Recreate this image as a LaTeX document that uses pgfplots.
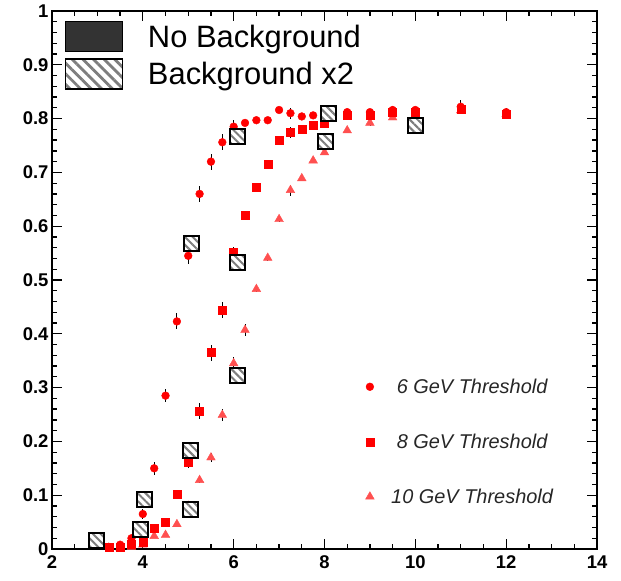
\documentclass[border=0pt]{standalone}
\usepackage{fontspec}
\setmainfont{Liberation Sans}
\usepackage{pgfplots}
\pgfplotsset{compat=1.18}
\usetikzlibrary{patterns.meta}
\definecolor{redA}{HTML}{FF0000}
\definecolor{redT}{HTML}{FF5050}
\definecolor{hatch}{HTML}{7E7E7E}
\definecolor{darkbox}{HTML}{333333}
\pgfplotsset{onemark/.style={legend image code/.code={\draw[##1] plot coordinates {(0bp,0bp)};}}}

\begin{document}
\begin{tikzpicture}
\useasboundingbox (-52bp,-32bp) rectangle (569bp,549bp);
\begin{axis}[
    at={(0,0)}, anchor=south west,
    scale only axis,
    width=545bp, height=538bp,
    xmin=2, xmax=14, ymin=0, ymax=1,
    xtick={2,4,...,14},
    minor x tick num=3,
    ytick={0,0.1,0.2,0.3,0.4,0.5,0.6,0.7,0.8,0.9,1},
    yticklabels={0,0.1,0.2,0.3,0.4,0.5,0.6,0.7,0.8,0.9,1},
    minor y tick num=4,
    tick align=inside,
    major tick length=10bp,
    minor tick length=5bp,
    axis line style={line width=1.8bp},
    every tick/.style={black, line width=1.3bp},
    tick label style={font=\bfseries\fontsize{18.5}{20}\selectfont},
    xticklabel style={yshift=-3bp},
    /pgf/number format/assume math mode=true,
    reverse legend,
    legend style={at={(0.575,0.1994)}, anchor=west, draw=none, fill=none,
        inner sep=0bp, row sep=39bp, nodes={inner sep=0bp},
        font=\itshape\fontsize{20}{22}\selectfont, text=black!85,
        /tikz/every odd column/.append style={column sep=17bp}},
]

% 10 GeV threshold
\addplot[only marks, mark=triangle*, mark size=5bp, color=redT, onemark,
    error bars/.cd, y dir=both, y explicit, error mark=none,
    error bar style={black, line width=0.8bp}]
coordinates {
(3.5,0.002) +- (0,0) (3.75,0.004) +- (0,0) (4,0.008) +- (0,0)
(4.25,0.024) +- (0,0) (4.5,0.026) +- (0,0) (4.75,0.046) +- (0,0)
(5,0.08) +- (0,0) (5.25,0.128) +- (0,0.005) (5.5,0.17) +- (0,0.008)
(5.75,0.249) +- (0,0.012) (6,0.345) +- (0,0.012) (6.25,0.407) +- (0,0.012)
(6.5,0.483) +- (0,0.005) (6.75,0.541) +- (0,0.005) (7,0.613) +- (0,0.005)
(7.25,0.667) +- (0,0.01) (7.5,0.689) +- (0,0.005) (7.75,0.722) +- (0,0.005)
(8,0.737) +- (0,0.005) (8.5,0.778) +- (0,0.005) (9,0.792) +- (0,0.005)
(9.5,0.802) +- (0,0.005) (10,0.79) +- (0,0.005) (11,0.815) +- (0,0.005)
(12,0.808) +- (0,0.005)
};
\addlegendentry{10 GeV Threshold}

% 8 GeV threshold
\addplot[only marks, mark=square*, mark size=4bp, color=redA, onemark,
    error bars/.cd, y dir=both, y explicit, error mark=none,
    error bar style={black, line width=0.8bp}]
coordinates {
(3.25,0.003) +- (0,0) (3.5,0.004) +- (0,0) (3.75,0.008) +- (0,0)
(4,0.012) +- (0,0.005) (4.25,0.038) +- (0,0) (4.5,0.05) +- (0,0)
(4.75,0.102) +- (0,0.005) (5,0.161) +- (0,0.01) (5.25,0.257) +- (0,0.015)
(5.5,0.365) +- (0,0.015) (5.75,0.444) +- (0,0.015) (6,0.552) +- (0,0.01)
(6.25,0.621) +- (0,0.005) (6.5,0.673) +- (0,0.005) (6.75,0.716) +- (0,0.005)
(7,0.76) +- (0,0.005) (7.25,0.774) +- (0,0.01) (7.5,0.78) +- (0,0.005)
(7.75,0.788) +- (0,0.005) (8,0.792) +- (0,0.005) (8.5,0.806) +- (0,0.005)
(9,0.807) +- (0,0.005) (9.5,0.812) +- (0,0.005) (10,0.812) +- (0,0.005)
(11,0.818) +- (0,0.01) (12,0.808) +- (0,0.005)
};
\addlegendentry{8 GeV Threshold}

% 6 GeV threshold
\addplot[only marks, mark=*, mark size=3.9bp, color=redA, onemark,
    error bars/.cd, y dir=both, y explicit, error mark=none,
    error bar style={black, line width=0.8bp}]
coordinates {
(3.25,0.004) +- (0,0) (3.5,0.008) +- (0,0) (3.75,0.02) +- (0,0)
(4,0.065) +- (0,0.01) (4.25,0.15) +- (0,0.012) (4.5,0.285) +- (0,0.012)
(4.75,0.423) +- (0,0.015) (5,0.545) +- (0,0.015) (5.25,0.66) +- (0,0.015)
(5.5,0.72) +- (0,0.015) (5.75,0.756) +- (0,0.015) (6,0.785) +- (0,0.012)
(6.25,0.792) +- (0,0.005) (6.5,0.797) +- (0,0.005) (6.75,0.797) +- (0,0.005)
(7,0.816) +- (0,0.005) (7.25,0.81) +- (0,0.01) (7.5,0.804) +- (0,0.005)
(7.75,0.806) +- (0,0.005) (8,0.81) +- (0,0.005) (8.5,0.812) +- (0,0.005)
(9,0.812) +- (0,0.005) (9.5,0.816) +- (0,0.005) (10,0.816) +- (0,0.005)
(11,0.822) +- (0,0.012) (12,0.812) +- (0,0.008)
};
\addlegendentry{6 GeV Threshold}

% background x2 (white base, then hatching)
\addplot[forget plot, only marks, mark=square*, mark size=7.5bp,
    mark options={draw=black, fill=white, line width=2bp}]
coordinates {
(2.97,0.015) (3.94,0.037) (4.03,0.092) (5.04,0.074) (5.04,0.183) (5.08,0.567)
(6.08,0.323) (6.08,0.532) (6.08,0.766) (8.03,0.757) (8.08,0.81) (10,0.788)
};
\addplot[forget plot, only marks, mark=square*, mark size=7.5bp,
    mark options={draw=black, line width=2bp,
        pattern={Lines[angle=-45,distance=5.5bp,line width=2bp]}, pattern color=hatch}]
coordinates {
(2.97,0.015) (3.94,0.037) (4.03,0.092) (5.04,0.074) (5.04,0.183) (5.08,0.567)
(6.08,0.323) (6.08,0.532) (6.08,0.766) (8.03,0.757) (8.08,0.81) (10,0.788)
};
\end{axis}

% top-left legend
\begin{axis}[
    at={(0,0)}, anchor=south west,
    scale only axis,
    width=545bp, height=538bp,
    xmin=2, xmax=14, ymin=0, ymax=1,
    hide axis,
    legend cell align=left,
    legend style={at={(0,1)}, anchor=north west, xshift=12bp, yshift=-9.7bp,
        draw=none, fill=none, inner sep=0bp, row sep=5bp, nodes={inner sep=0bp},
        font=\fontsize{31}{32}\selectfont,
        /tikz/every odd column/.append style={column sep=24bp}},
]
\addlegendimage{legend image code/.code={
    \draw[fill=darkbox, draw=black, line width=1.5bp] (0bp,-15bp) rectangle (57bp,15bp);}}
\addlegendentry{No Background}
\addlegendimage{legend image code/.code={
    \draw[fill=white, draw=none] (0bp,-15bp) rectangle (57bp,15bp);
    \fill[pattern={Lines[angle=-45,distance=7.5bp,line width=2.8bp]}, pattern color=hatch]
        (0bp,-15bp) rectangle (57bp,15bp);
    \draw[draw=black, line width=1.5bp] (0bp,-15bp) rectangle (57bp,15bp);}}
\addlegendentry{Background x2}
\end{axis}
\end{tikzpicture}
\end{document}
